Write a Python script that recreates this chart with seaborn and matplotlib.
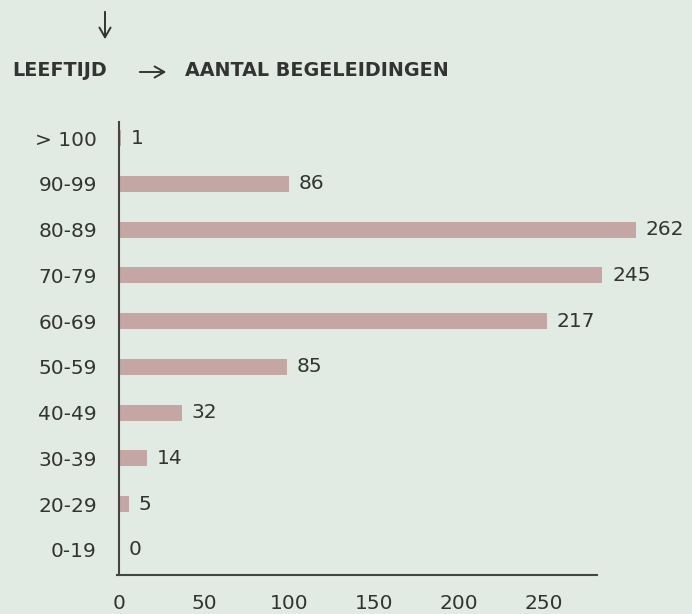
import matplotlib
matplotlib.use("Agg")
import matplotlib.pyplot as plt
import seaborn as sns
import pandas as pd

categories = ["> 100", "90-99", "80-89", "70-79", "60-69", "50-59", "40-49", "30-39", "20-29", "0-19"]
values = [1, 86, 262, 245, 217, 85, 32, 14, 5, 0]
xtick_labels = [0, 50, 100, 150, 200, 250]
title_left = "LEEFTIJD"
title_right = "AANTAL BEGELEIDINGEN"

bg = "#e2ebe3"
bar_color = "#c4a7a5"
text_color = "#333333"

sns.set_theme(style="white")
plt.rcParams["font.family"] = ["DejaVu Sans"]

a = 1.973   # px per data unit for bars
b = 1.70    # px per unit for tick labels
axw = 571
fig = plt.figure(figsize=(6.92, 6.14), dpi=100, facecolor=bg)
ax = fig.add_axes([119 / 692, 39 / 614, axw / 692, 453 / 614])
ax.set_facecolor("none")

df = pd.DataFrame({"cat": categories, "val": values})
sns.barplot(data=df, x="val", y="cat", order=categories, color=bar_color,
            width=0.35, saturation=1, linewidth=0, ax=ax, orient="h")
ax.set_xlim(0, axw / a)
ax.set_ylim(len(categories) - 1 + 0.55, -0.35)
ax.set_xlabel("")
ax.set_ylabel("")

for c in ax.containers:
    ax.bar_label(c, labels=[str(v) for v in values], padding=7,
                 fontsize=14.5, color=text_color, clip_on=False)

for s in ["top", "right"]:
    ax.spines[s].set_visible(False)
for s in ["left", "bottom"]:
    ax.spines[s].set_color("#444444")
    ax.spines[s].set_linewidth(1.5)
ax.spines["bottom"].set_bounds(-1, (597 - 119) / a)

ax.tick_params(axis="y", length=0, pad=16, labelsize=14.5, labelcolor=text_color)
ax.tick_params(axis="x", length=0, labelbottom=False)

k = a / b
sec = ax.secondary_xaxis("bottom", functions=(lambda x: x * k, lambda x: x / k))
sec.set_xticks(xtick_labels)
sec.set_xticklabels([str(t) for t in xtick_labels])
sec.tick_params(length=0, pad=14, labelsize=14.5, labelcolor=text_color)
sec.spines["bottom"].set_visible(False)

fig.text(12 / 692, 1 - 71 / 614, title_left, fontsize=13.8, fontweight="bold",
         color=text_color, va="center", ha="left")
fig.text(185 / 692, 1 - 71 / 614, title_right, fontsize=13.8, fontweight="bold",
         color=text_color, va="center", ha="left")

fig.patches.append(matplotlib.patches.FancyArrowPatch(
    (137 / 692, 1 - 72 / 614), (169 / 692, 1 - 72 / 614), transform=fig.transFigure,
    arrowstyle="->,head_length=7,head_width=4", color=text_color, lw=1.4))
fig.patches.append(matplotlib.patches.FancyArrowPatch(
    (105 / 692, 1 - 9 / 614), (105 / 692, 1 - 42 / 614), transform=fig.transFigure,
    arrowstyle="->,head_length=7,head_width=4", color=text_color, lw=1.4))

fig.savefig("out.png", dpi=100, facecolor=bg)
